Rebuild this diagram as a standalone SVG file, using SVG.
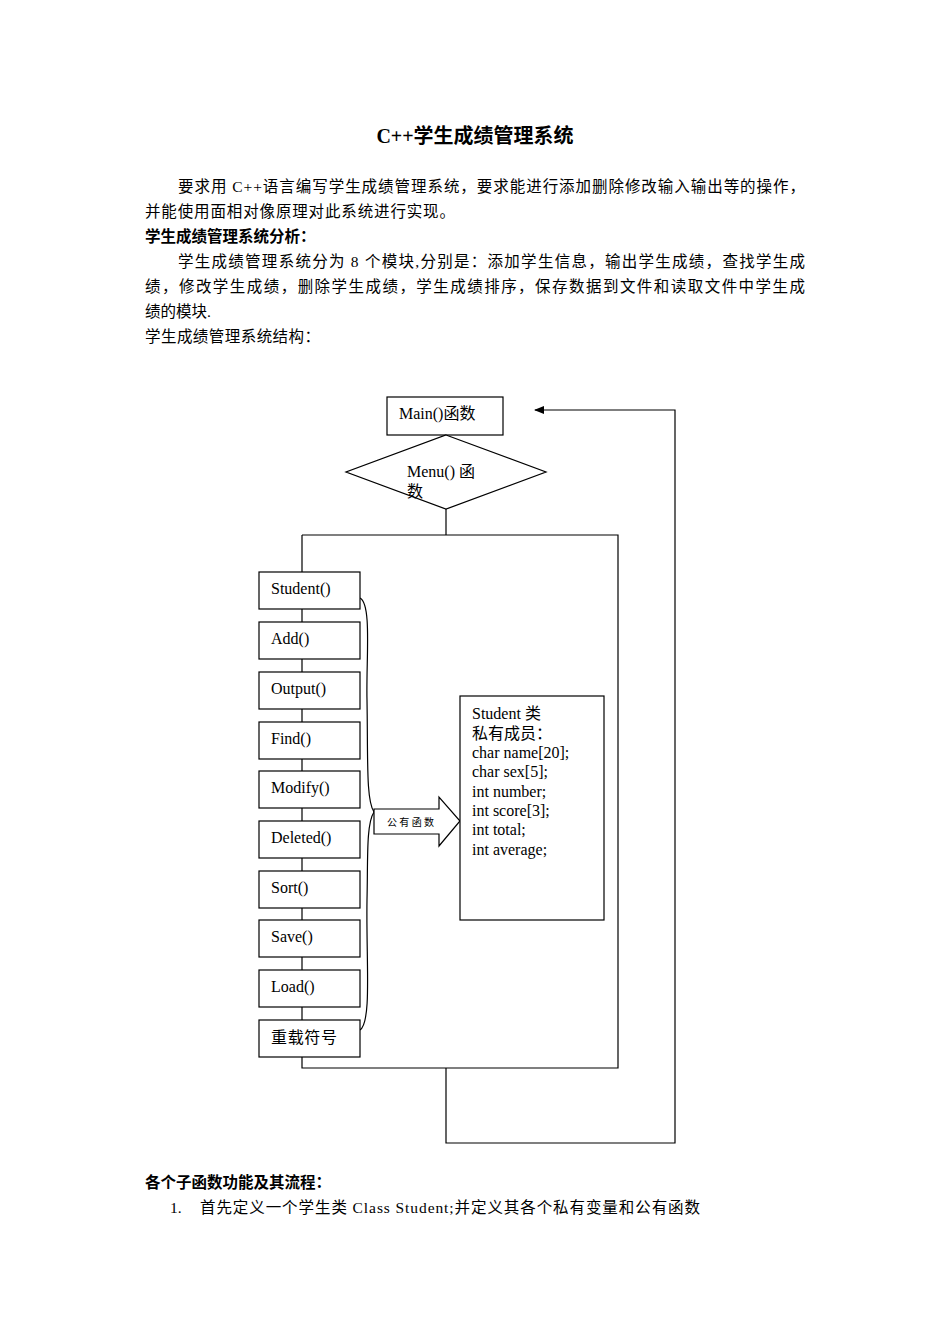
<svg xmlns="http://www.w3.org/2000/svg" width="950" height="1344" viewBox="0 0 950 1344">
<style>
text{font-family:"Liberation Serif","Noto Sans CJK SC",serif;fill:#000}
.b{font-size:15.5px}
.d{font-size:16px}
.h{font-size:15.5px;font-weight:bold}
.n{fill:#fff;stroke:#000;stroke-width:1.2}
.l{fill:none;stroke:#000;stroke-width:1.2}
</style>
<defs><marker id="a" markerWidth="10" markerHeight="8" refX="9" refY="4" orient="auto" markerUnits="userSpaceOnUse"><path d="M0,0L10,4L0,8z"/></marker></defs>
<rect width="950" height="1344" fill="#fff"/>
<text x="475" y="143" text-anchor="middle" font-size="20" font-weight="bold">C++学生成绩管理系统</text>
<text class="b" x="178" y="192" textLength="627" lengthAdjust="spacing">要求用 C++语言编写学生成绩管理系统，要求能进行添加删除修改输入输出等的操作，</text>
<text class="b" x="145" y="217" textLength="310" lengthAdjust="spacing">并能使用面相对像原理对此系统进行实现。</text>
<text class="h" x="145" y="242">学生成绩管理系统分析：</text>
<text class="b" x="178" y="267" textLength="627" lengthAdjust="spacing">学生成绩管理系统分为 8 个模块,分别是：添加学生信息，输出学生成绩，查找学生成</text>
<text class="b" x="145" y="292" textLength="660" lengthAdjust="spacing">绩，修改学生成绩，删除学生成绩，学生成绩排序，保存数据到文件和读取文件中学生成</text>
<text class="b" x="145" y="317">绩的模块.</text>
<text class="b" x="145" y="342" textLength="175" lengthAdjust="spacing">学生成绩管理系统结构：</text>
<g id="connectors">
<path class="l" d="M446,509V535M302,535H618V1068H302V535M446,1068V1143H675V410H535" marker-end="url(#a)"/>
<path class="l" d="M360,598C372,604 366,660 367,700C368,760 366,800 374,812C366,824 368,860 367,900C366,960 372,1022 360,1030"/>
</g>
<g id="main"><rect class="n" x="387" y="397" width="116" height="38"/><text class="d" x="399" y="419">Main()函数</text></g>
<g id="menu"><path class="n" d="M446,435L546,472L446,509L346,472z"/><text class="d" x="407" y="477">Menu()   函</text><text class="d" x="407" y="497">数</text></g>
<g id="n1"><rect class="n" x="259" y="572" width="101" height="37"/><text class="d" x="271" y="594">Student()</text></g>
<g id="n2"><rect class="n" x="259" y="622" width="101" height="37"/><text class="d" x="271" y="644">Add()</text></g>
<g id="n3"><rect class="n" x="259" y="672" width="101" height="37"/><text class="d" x="271" y="694">Output()</text></g>
<g id="n4"><rect class="n" x="259" y="722" width="101" height="37"/><text class="d" x="271" y="744">Find()</text></g>
<g id="n5"><rect class="n" x="259" y="771" width="101" height="37"/><text class="d" x="271" y="793">Modify()</text></g>
<g id="n6"><rect class="n" x="259" y="821" width="101" height="37"/><text class="d" x="271" y="843">Deleted()</text></g>
<g id="n7"><rect class="n" x="259" y="871" width="101" height="37"/><text class="d" x="271" y="893">Sort()</text></g>
<g id="n8"><rect class="n" x="259" y="920" width="101" height="37"/><text class="d" x="271" y="942">Save()</text></g>
<g id="n9"><rect class="n" x="259" y="970" width="101" height="37"/><text class="d" x="271" y="992">Load()</text></g>
<g id="n10"><rect class="n" x="259" y="1020" width="101" height="37"/><text class="d" x="271" y="1043" textLength="66" lengthAdjust="spacing">重载符号</text></g>
<g id="arrow"><path class="n" d="M374,809H439V797L460,821L439,846V834H374z"/><text x="387" y="826" font-size="10" textLength="47" lengthAdjust="spacing">公有函数</text></g>
<g id="cls"><rect class="n" x="460" y="696" width="144" height="224"/>
<text class="d" x="472" y="719">Student 类</text><text class="d" x="472" y="739">私有成员：</text><text class="d" x="472" y="758">char name[20];</text><text class="d" x="472" y="777">char sex[5];</text><text class="d" x="472" y="797">int number;</text><text class="d" x="472" y="816">int score[3];</text><text class="d" x="472" y="835">int total;</text><text class="d" x="472" y="855">int average;</text></g>
<text class="h" x="145" y="1188">各个子函数功能及其流程：</text>
<text class="b" x="170" y="1213">1.</text>
<text class="b" x="200" y="1213" textLength="500" lengthAdjust="spacing">首先定义一个学生类 Class Student;并定义其各个私有变量和公有函数</text>
</svg>
